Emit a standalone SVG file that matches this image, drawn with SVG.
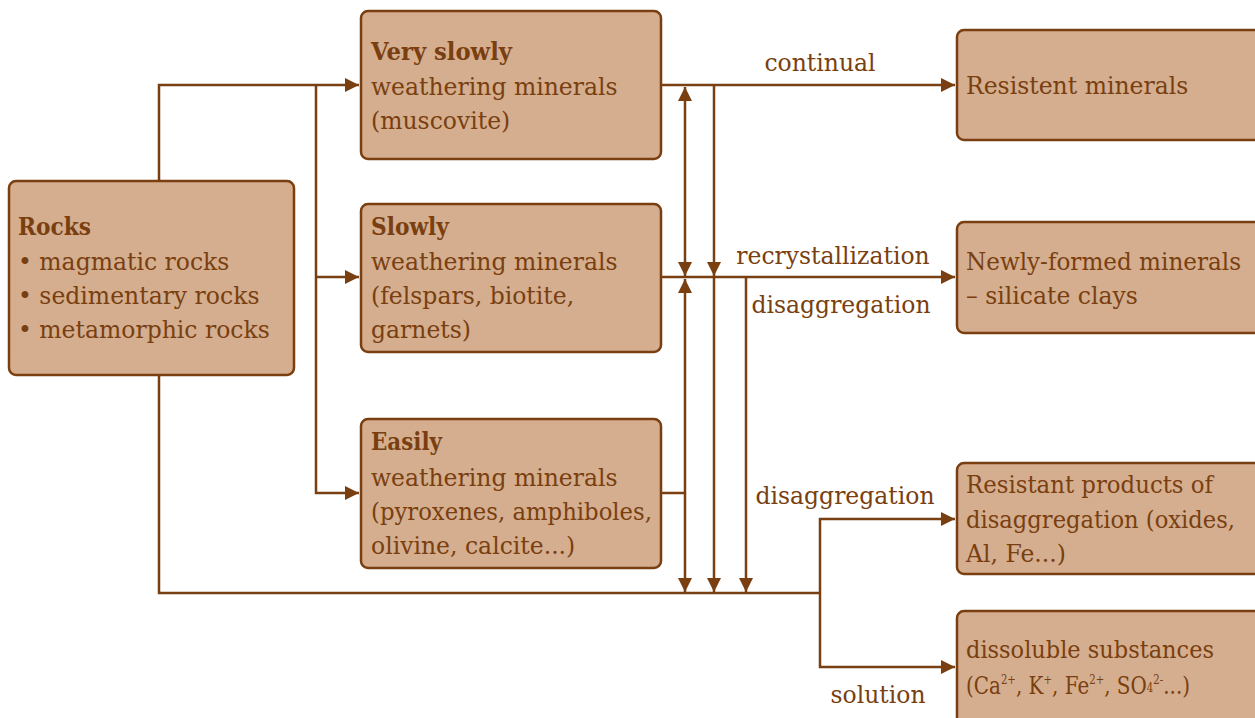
<svg xmlns="http://www.w3.org/2000/svg" width="1255" height="718" viewBox="0 0 1255 718">
<defs>
<marker id="arr" markerUnits="userSpaceOnUse" markerWidth="16" markerHeight="16" refX="14" refY="7" orient="auto-start-reverse" viewBox="0 0 16 16">
<path d="M0,0 L14,7 L0,14 z" fill="#7A3F10"/>
</marker>
</defs>
<style>
.box{fill:#D4AE8F;stroke:#7A3F10;stroke-width:2.5}
.t{font-family:"DejaVu Serif","Liberation Serif",serif;font-size:23.5px;fill:#7A3F10}
.b{font-weight:bold}
.c{fill:none;stroke:#7A3F10;stroke-width:2.5}
.sup{font-size:12px}
</style>
<rect width="1255" height="718" fill="#FFFFFF"/>
<g id="connectors">
<polyline class="c" points="159,181 159,85 359,85" marker-end="url(#arr)"/>
<polyline class="c" points="316,85 316,493 359,493" marker-end="url(#arr)"/>
<line class="c" x1="316" y1="277" x2="359" y2="277" marker-end="url(#arr)"/>
<polyline class="c" points="159,375 159,593 820,593"/>
<polyline class="c" points="820,593 820,519 955,519" marker-end="url(#arr)"/>
<polyline class="c" points="820,593 820,667 955,667" marker-end="url(#arr)"/>
<line class="c" x1="661" y1="85" x2="955" y2="85" marker-end="url(#arr)"/>
<line class="c" x1="661" y1="277" x2="955" y2="277" marker-end="url(#arr)"/>
<line class="c" x1="661" y1="493" x2="685" y2="493"/>
<line class="c" x1="685" y1="87" x2="685" y2="276" marker-start="url(#arr)" marker-end="url(#arr)"/>
<line class="c" x1="685" y1="279" x2="685" y2="592" marker-start="url(#arr)" marker-end="url(#arr)"/>
<line class="c" x1="714" y1="85" x2="714" y2="276" marker-end="url(#arr)"/>
<line class="c" x1="714" y1="277" x2="714" y2="592" marker-end="url(#arr)"/>
<line class="c" x1="746" y1="277" x2="746" y2="592" marker-end="url(#arr)"/>
<text class="t" x="820" y="71" text-anchor="middle">continual</text>
<text class="t" x="833" y="264" text-anchor="middle">recrystallization</text>
<text class="t" x="841" y="313" text-anchor="middle">disaggregation</text>
<text class="t" x="845" y="504" text-anchor="middle">disaggregation</text>
<text class="t" x="878" y="703" text-anchor="middle">solution</text>
</g>
<g id="rocks">
<rect class="box" x="9" y="181" width="285" height="194" rx="7"/>
<text class="t" x="18" y="235"><tspan class="b" textLength="73" lengthAdjust="spacingAndGlyphs">Rocks</tspan><tspan x="18" y="270">• magmatic rocks</tspan><tspan x="18" y="304">• sedimentary rocks</tspan><tspan x="18" y="338">• metamorphic rocks</tspan></text>
</g>
<g id="very-slowly">
<rect class="box" x="361" y="11" width="300" height="148" rx="7"/>
<text class="t" x="371" y="60"><tspan class="b" textLength="141" lengthAdjust="spacingAndGlyphs">Very slowly</tspan><tspan x="371" y="95">weathering minerals</tspan><tspan x="371" y="129">(muscovite)</tspan></text>
</g>
<g id="slowly">
<rect class="box" x="361" y="204" width="300" height="148" rx="7"/>
<text class="t" x="371" y="235"><tspan class="b" textLength="78" lengthAdjust="spacingAndGlyphs">Slowly</tspan><tspan x="371" y="270">weathering minerals</tspan><tspan x="371" y="304">(felspars, biotite,</tspan><tspan x="371" y="338">garnets)</tspan></text>
</g>
<g id="easily">
<rect class="box" x="361" y="419" width="300" height="149" rx="7"/>
<text class="t" x="371" y="450"><tspan class="b" textLength="71" lengthAdjust="spacingAndGlyphs">Easily</tspan><tspan x="371" y="486">weathering minerals</tspan><tspan x="371" y="520" textLength="281" lengthAdjust="spacingAndGlyphs">(pyroxenes, amphiboles,</tspan><tspan x="371" y="554">olivine, calcite...)</tspan></text>
</g>
<g id="resistent-minerals">
<rect class="box" x="957" y="30" width="305" height="110" rx="7"/>
<text class="t" x="966" y="94">Resistent minerals</text>
</g>
<g id="newly-formed">
<rect class="box" x="957" y="222" width="305" height="111" rx="7"/>
<text class="t" x="966" y="270"><tspan textLength="275" lengthAdjust="spacingAndGlyphs">Newly-formed minerals</tspan><tspan x="966" y="304">– silicate clays</tspan></text>
</g>
<g id="resistant-products">
<rect class="box" x="957" y="463" width="305" height="111" rx="7"/>
<text class="t" x="966" y="493"><tspan textLength="247" lengthAdjust="spacingAndGlyphs">Resistant products of</tspan><tspan x="966" y="528" textLength="269" lengthAdjust="spacingAndGlyphs">disaggregation (oxides,</tspan><tspan x="966" y="562">Al, Fe...)</tspan></text>
</g>
<g id="dissoluble">
<rect class="box" x="957" y="611" width="305" height="120" rx="7"/>
<text class="t" x="966" y="658" textLength="248" lengthAdjust="spacingAndGlyphs">dissoluble substances</text>
<text class="t" x="966" y="694" textLength="224" lengthAdjust="spacingAndGlyphs">(Ca<tspan class="sup" dy="-10">2+</tspan><tspan dy="10">, K</tspan><tspan class="sup" dy="-10">+</tspan><tspan dy="10">, Fe</tspan><tspan class="sup" dy="-10">2+</tspan><tspan dy="10">, SO</tspan><tspan class="sup" dy="-2">4</tspan><tspan class="sup" dy="-8">2-</tspan><tspan dy="10">...)</tspan></text>
</g>
</svg>
